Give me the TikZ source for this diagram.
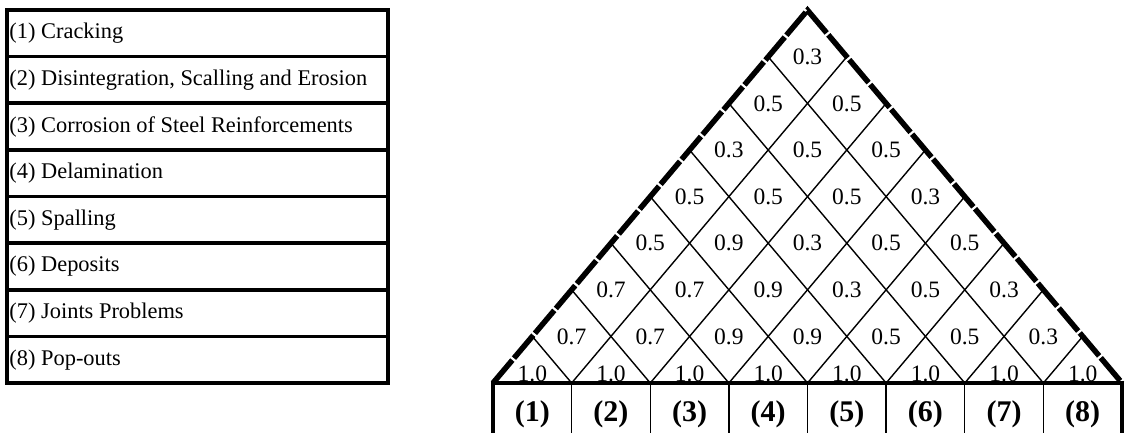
\documentclass[tikz,border=0pt]{standalone}
\usepackage{fontspec}
\setmainfont{Liberation Serif}
\begin{document}
\begin{tikzpicture}[x=1pt,y=-1pt,
  thinline/.style={line width=1.4pt},
  edgeline/.style={line width=5.5pt, dash pattern=on 30pt off 2.5pt, line join=miter},
  border/.style={line width=3.5pt},
  rowbox/.style={draw, line width=3.5pt, minimum width=381pt, minimum height=46.625pt, inner sep=0pt},
  num/.style={inner sep=0pt, font=\fontsize{23.5}{27}\selectfont},
  itemtext/.style={anchor=west, inner sep=0pt, font=\fontsize{22.4}{26}\selectfont},
  colhead/.style={inner sep=0pt, font=\bfseries\fontsize{30}{34}\selectfont}]
\useasboundingbox (0,0) rectangle (1126,433);
\clip (0,0) rectangle (1126,433);
\def\rh{46.625}
\def\w{78.625}
\def\h{46.6}
% left table
\foreach \i/\t in {1/{(1) Cracking},2/{(2) Disintegration, Scalling and Erosion},3/{(3) Corrosion of Steel Reinforcements},4/{(4) Delamination},5/{(5) Spalling},6/{(6) Deposits},7/{(7) Joints Problems},8/{(8) Pop-outs}}{
  \node[rowbox] (row\i) at (197.5,{10+(\i-0.5)*\rh}) {};
  \node[itemtext] (item\i) at ([xshift=4pt]row\i.west) {\t};
}
% triangle coordinates
\coordinate (L) at (493,383);
\coordinate (R) at (1122,383);
\coordinate (apex) at (807.5,{383-8*\h});
\foreach \k in {1,...,7}{
  \coordinate (b\k) at ({493+\k*\w},383);
  \coordinate (l\k) at ({493+\k*\w/2},{383-\k*\h});
  \coordinate (r\k) at ({493+(\k+8)*\w/2},{383-(8-\k)*\h});
  \draw[thinline] (r\k) -- (b\k) -- (l\k);
}
% bottom table
\draw[border] (493,383) rectangle (1122,447);
\foreach \k in {1,...,7}{
  \coordinate (t\k) at ({493+\k*\w},447);
  \draw[thinline] (b\k) -- (t\k);
}
\draw[edgeline] (L) -- (apex) -- (R);
% values
\foreach \r/\vals in {1/{0.3},2/{0.5,0.5},3/{0.3,0.5,0.5},4/{0.5,0.5,0.5,0.3},5/{0.5,0.9,0.3,0.5,0.5},6/{0.7,0.7,0.9,0.3,0.5,0.3},7/{0.7,0.7,0.9,0.9,0.5,0.5,0.3}}{
  \foreach \v [count=\i] in \vals {
    \node[num] (c\r-\i) at ({807.5+(\i-(\r+1)/2)*\w},{383-(8-\r)*\h}) {\v};
  }
}
\foreach \i in {1,...,8}{
  \node[num, anchor=base] (c8-\i) at ({493+(\i-0.5)*\w},381.5) {1.0};
  \node[colhead] (h\i) at ({493+(\i-0.5)*\w},414) {(\i)};
}
\end{tikzpicture}
\end{document}
